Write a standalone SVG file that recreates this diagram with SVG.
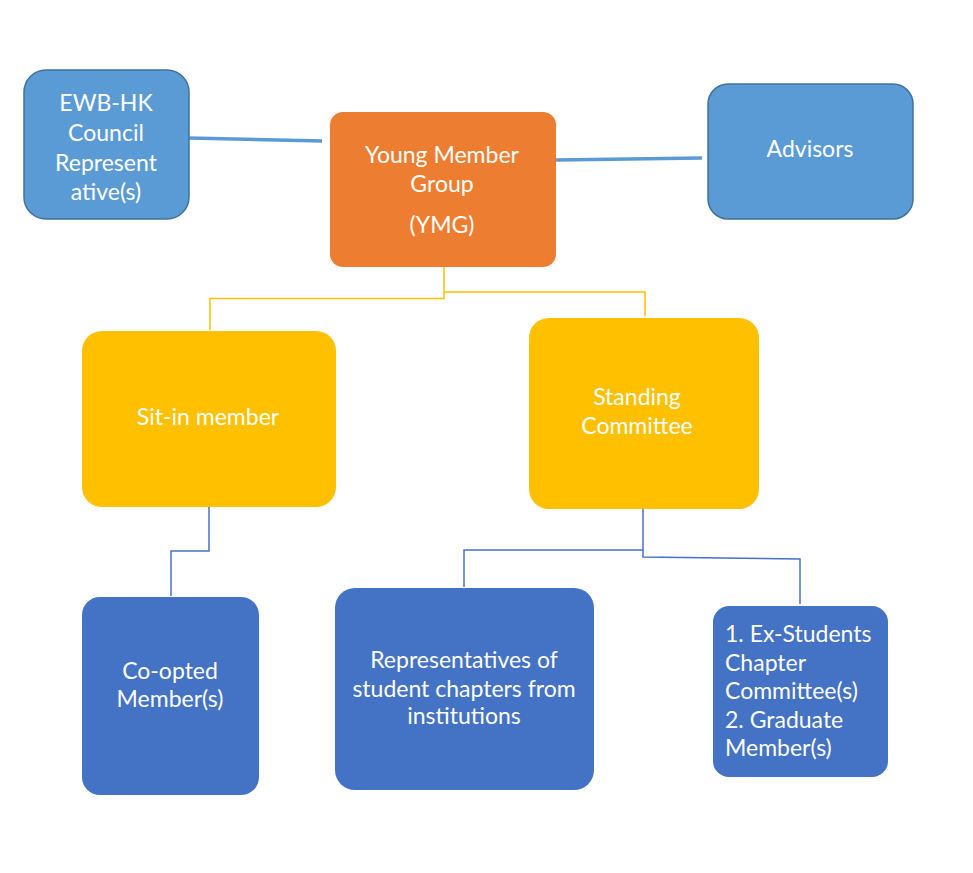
<svg xmlns="http://www.w3.org/2000/svg" width="973" height="873" viewBox="0 0 973 873">
<style>
text{font-family:"Lato","Liberation Sans",sans-serif;font-size:23px;fill:#fff;}
.c{text-anchor:middle;}
.lt{fill:#5B9BD5;stroke:#41719C;stroke-width:1.5;}
.y{fill:#FFC000;}
.db{fill:#4472C4;}
.cy{fill:none;stroke:#FFC000;stroke-width:1.5;}
.cb{fill:none;stroke:#4472C4;stroke-width:1.5;}
.ct{fill:none;stroke:#5B9BD5;stroke-width:3.5;}
</style>
<rect width="973" height="873" fill="#fff"/>
<g id="connectors">
<path class="ct" d="M189,138 L322,141"/>
<path class="ct" d="M556,160 L702,158"/>
<path class="cy" d="M444,267 L444,298.5 L210,298.5 L210,330"/>
<path class="cy" d="M444,292 L645,292 L645,316"/>
<path class="cb" d="M209,507 L209,551 L171,551 L171,596"/>
<path class="cb" d="M643,509 L643,550 L464,550 L464,587"/>
<path class="cb" d="M643,550 L643,557 L800,559 L800,604"/>
</g>
<g id="ewb">
<rect class="lt" x="24" y="70" width="165" height="149" rx="22"/>
<text class="c" x="106" y="111">EWB-HK</text>
<text class="c" x="106" y="141">Council</text>
<text class="c" x="106" y="171">Represent</text>
<text class="c" x="106" y="200">ative(s)</text>
</g>
<g id="ymg">
<rect x="330" y="112" width="226" height="155" rx="13" fill="#ED7D31"/>
<text class="c" x="442" y="163">Young Member</text>
<text class="c" x="442" y="192">Group</text>
<text class="c" x="442" y="233">(YMG)</text>
</g>
<g id="advisors">
<rect class="lt" x="708" y="84" width="205" height="135" rx="20"/>
<text class="c" x="810" y="157">Advisors</text>
</g>
<g id="sitin">
<rect class="y" x="82" y="331" width="254" height="176" rx="20"/>
<text class="c" x="208" y="425">Sit-in member</text>
</g>
<g id="standing">
<rect class="y" x="529" y="318" width="230" height="191" rx="20"/>
<text class="c" x="637" y="405">Standing</text>
<text class="c" x="637" y="434">Committee</text>
</g>
<g id="coopted">
<rect class="db" x="82" y="597" width="177" height="198" rx="18"/>
<text class="c" x="170" y="679">Co-opted</text>
<text class="c" x="170" y="707">Member(s)</text>
</g>
<g id="reps">
<rect class="db" x="335" y="588" width="259" height="202" rx="20"/>
<text class="c" x="464" y="668">Representatives of</text>
<text class="c" x="464" y="697">student chapters from</text>
<text class="c" x="464" y="724">institutions</text>
</g>
<g id="exstudents">
<rect class="db" x="713" y="606" width="175" height="171" rx="16"/>
<text x="725" y="642">1. Ex-Students</text>
<text x="725" y="671">Chapter</text>
<text x="725" y="699">Committee(s)</text>
<text x="725" y="728">2. Graduate</text>
<text x="725" y="756">Member(s)</text>
</g>
</svg>
